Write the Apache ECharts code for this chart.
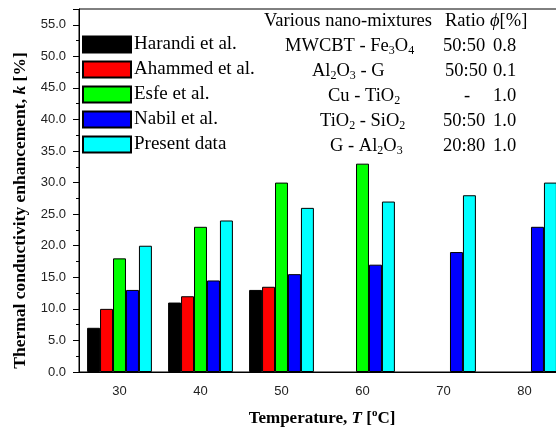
<!DOCTYPE html>
<html>
<head>
<meta charset="utf-8">
<script src="https://cdn.jsdelivr.net/npm/echarts@6/dist/echarts.min.js"></script>
<style>
  html, body { margin: 0; padding: 0; background: #fff; }
  #chart { width: 556px; height: 431px; }
</style>
</head>
<body>
<div id="chart"></div>
<script>
// Temperatures (°C) on the category axis
const categories = ['30', '40', '50', '60', '70', '80'];

// Thermal conductivity enhancement k [%] per study
const harandi = [7, 11, 13, null, null, null];
const ahammed = [10, 12, 13.5, null, null, null];
const esfe    = [18, 23, 30, 33, null, null];
const nabil   = [13, 14.5, 15.5, 17, 19, 23];
const present = [20, 24, 26, 27, 28, 30];

const seriesNames  = ['Harandi et al.', 'Ahammed et al.', 'Esfe et al.', 'Nabil et al.', 'Present data'];
const seriesValues = [harandi, ahammed, esfe, nabil, present];
const seriesColors = ['#000000', '#ff0000', '#00ff00', '#0000ff', '#00ffff'];

// Nano-mixture table (underscore marks a subscript digit)
const mixtures = ['MWCBT - Fe_3O_4', 'Al_2O_3 - G', 'Cu - TiO_2', 'TiO_2 - SiO_2', 'G - Al_2O_3'];
const ratios   = ['50:50', '50:50', '-', '50:50', '20:80'];
const phis     = ['0.8', '0.1', '1.0', '1.0', '1.0'];

const SERIF = 'Liberation Serif';
const SANS = 'Liberation Sans';

// Turn "Fe_3O_4" into rich-text tokens with subscripts
function chem(str) {
  let out = '';
  let buf = '';
  for (let i = 0; i < str.length; i++) {
    if (str[i] === '_') {
      if (buf) { out += '{n|' + buf + '}'; buf = ''; }
      out += '{s|' + str[i + 1] + '}';
      i++;
    } else {
      buf += str[i];
    }
  }
  if (buf) out += '{n|' + buf + '}';
  return out;
}

const tableRich = {
  n: { fontFamily: SERIF, fontSize: 18.5, fill: '#000' },
  s: { fontFamily: SERIF, fontSize: 12, fill: '#000', padding: [10, 0, 0, 0] },
  i: { fontFamily: SERIF, fontSize: 18.5, fontStyle: 'italic', fill: '#000' }
};

// Table layout: column x positions and row centres
const mixX = [285, 312, 328, 320, 330];
const ratioX = [443, 445, 464, 443, 443];
const phiX = 493;
const headerY = 21;
const rowY0 = 46, rowStep = 25;

const graphics = [];
function addText(x, y, text) {
  graphics.push({
    type: 'text', x: x, y: y, silent: true,
    style: { text: text, rich: tableRich, fill: '#000',
             font: '18px "' + SERIF + '"', verticalAlign: 'middle', align: 'left' }
  });
}
addText(264, headerY, '{n|Various nano-mixtures}');
addText(445, headerY, '{n|Ratio}');
addText(490, headerY, '{i|ϕ}{n|[%]}');
mixtures.forEach((m, k) => addText(mixX[k], rowY0 + k * rowStep, chem(m)));
ratios.forEach((r, k) => addText(ratioX[k], rowY0 + k * rowStep, '{n|' + r + '}'));
phis.forEach((p, k) => addText(phiX, rowY0 + k * rowStep, '{n|' + p + '}'));

const chart = echarts.init(document.getElementById('chart'), null, { renderer: 'canvas' });

const option = {
  animation: false,
  backgroundColor: '#fff',
  grid: {
    left: 79, top: 9, bottom: 59, width: 486,
    containLabel: false, outerBoundsMode: 'none',
    show: true, borderColor: '#000', borderWidth: 1, backgroundColor: 'transparent'
  },
  legend: {
    orient: 'vertical', left: 82, top: 35, padding: 0,
    itemWidth: 48, itemHeight: 16, itemGap: 6,
    icon: 'rect',
    textStyle: { fontFamily: SERIF, fontSize: 19, color: '#000', padding: [0, 0, 0, -2] },
    data: seriesNames
  },
  xAxis: [
    {
      type: 'category', data: categories, position: 'bottom', boundaryGap: true,
      axisLine: { lineStyle: { color: '#000', width: 1 } },
      axisTick: { alignWithLabel: true, length: 6, lineStyle: { color: '#000' } },
      axisLabel: { fontFamily: SANS, fontSize: 13, color: '#222', margin: 13 },
      name: '{b|Temperature, }{bi|T}{b| [}{sup|o}{b|C]}',
      nameLocation: 'middle', nameGap: 36,
      nameTextStyle: {
        rich: {
          b: { fontFamily: SERIF, fontSize: 17, fontWeight: 'bold', color: '#000' },
          bi: { fontFamily: SERIF, fontSize: 17, fontWeight: 'bold', fontStyle: 'italic', color: '#000' },
          sup: { fontFamily: SERIF, fontSize: 11, fontWeight: 'bold', color: '#000', padding: [0, 0, 11, 0] }
        }
      }
    },
    {
      type: 'category', data: categories, position: 'bottom', boundaryGap: true,
      axisLine: { show: false },
      axisTick: { alignWithLabel: false, length: 4, lineStyle: { color: '#000' } },
      axisLabel: { show: false }
    }
  ],
  yAxis: {
    type: 'value', min: 0, max: 57.5, interval: 5,
    axisLine: { show: true, lineStyle: { color: '#000', width: 1 } },
    axisTick: { show: true, length: 6, lineStyle: { color: '#000' } },
    minorTick: { show: true, splitNumber: 2, length: 3, lineStyle: { color: '#000' } },
    splitLine: { show: false },
    axisLabel: {
      fontFamily: SANS, fontSize: 13, color: '#222', margin: 13,
      formatter: v => (v % 5 === 0 && v <= 55) ? v.toFixed(1) : ''
    },
    name: '{b|Thermal conductivity enhancement, }{bi|k}{b| [%]}',
    nameLocation: 'middle', nameGap: 50,
    nameTextStyle: {
      padding: [0, 40, 0, 0],
      rich: {
        b: { fontFamily: SERIF, fontSize: 17.5, fontWeight: 'bold', color: '#000' },
        bi: { fontFamily: SERIF, fontSize: 17.5, fontWeight: 'bold', fontStyle: 'italic', color: '#000' }
      }
    }
  },
  series: seriesNames.map((name, k) => ({
    name: name,
    type: 'bar',
    xAxisIndex: 0,
    data: seriesValues[k],
    barGap: '0%',
    barCategoryGap: '20%',
    itemStyle: { color: seriesColors[k], borderColor: '#000', borderWidth: 1 }
  })),
  graphic: graphics
};

chart.setOption(option);
</script>
</body>
</html>
